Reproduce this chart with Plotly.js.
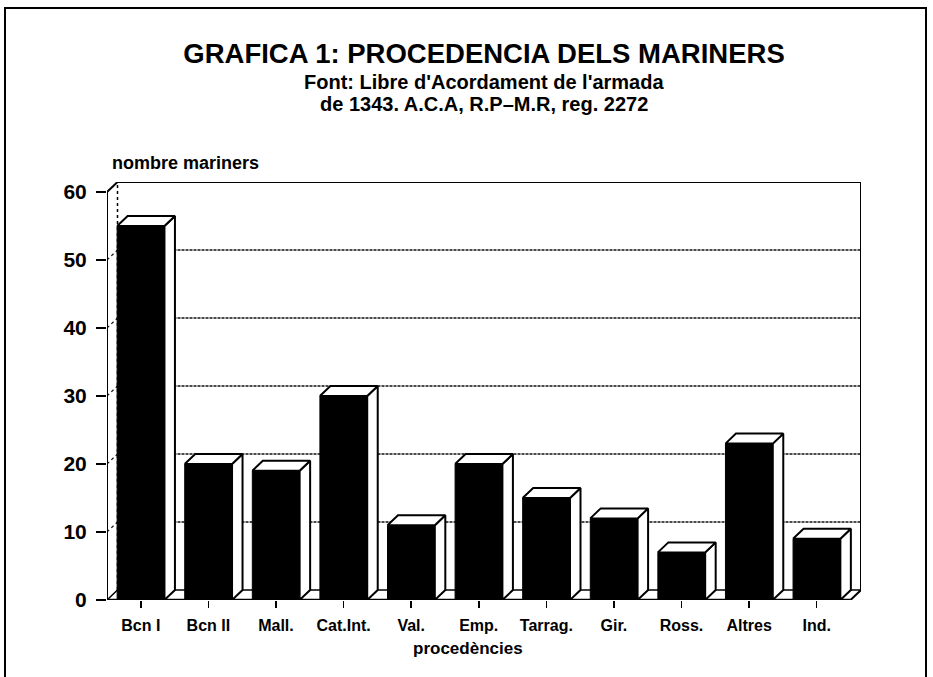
<!DOCTYPE html>
<html>
<head>
<meta charset="utf-8">
<script src="https://cdn.plot.ly/plotly-3.0.1.min.js"></script>
<style>html,body{margin:0;padding:0;background:#fff;}#chart{width:933px;height:677px;}</style>
</head>
<body>
<div id="chart"></div>
<script>
// ---- data ----
const categories = ['Bcn I','Bcn II','Mall.','Cat.Int.','Val.','Emp.','Tarrag.','Gir.','Ross.','Altres','Ind.'];
const sailors = [55, 20, 19, 30, 11, 20, 15, 12, 7, 23, 9];
const yTickValues = [0, 10, 20, 30, 40, 50, 60];
const gridValues = [10, 20, 30, 40, 50];
const titleText = 'GRAFICA 1: PROCEDENCIA DELS MARINERS';
const subtitleLines = ["Font: Libre d'Acordament de l'armada", 'de 1343. A.C.A, R.P\u2013M.R, reg. 2272'];
const yTitle = 'nombre mariners';
const xTitle = 'procedències';

// ---- layout geometry (styling) ----
const FIG_W = 933, FIG_H = 677;
const L = 107, T = 182, W = 754, H = 418;
const pxPerX = 67.6, pxPerY = 6.8;
const depthPx = {x: 10.5, y: 10};
const dxU = depthPx.x / pxPerX, dyU = depthPx.y / pxPerY;
const n = categories.length;
const xMin = -0.5, xFront = n - 0.5;
const yMax = 60;
const barW = 0.7;
const xs = categories.map((_, i) => i);
const paperX = px => (px - L) / W;
const paperY = py => (T + H - py) / H;

const FONT = 'Liberation Sans, Arial, sans-serif';

// ---- faces of the 3D bars ----
const sideX = [], sideY = [], topX = [], topY = [];
xs.forEach((x, i) => {
  const v = sailors[i];
  const r = x + barW / 2, l = x - barW / 2;
  sideX.push(r, r + dxU, r + dxU, r, r, null);
  sideY.push(0, dyU, v + dyU, v, 0, null);
  topX.push(l, r, r + dxU, l + dxU, l, null);
  topY.push(v, v, v + dyU, v + dyU, v, null);
});

const traces = [
  {type: 'bar', x: xs, y: sailors, width: barW, marker: {color: '#000', line: {color: '#000', width: 1}}, hoverinfo: 'x+y', showlegend: false},
  {type: 'scatter', mode: 'lines', x: sideX, y: sideY, fill: 'toself', fillcolor: '#fff', line: {color: '#000', width: 2}, hoverinfo: 'skip', showlegend: false},
  {type: 'scatter', mode: 'lines', x: topX, y: topY, fill: 'toself', fillcolor: '#fff', line: {color: '#000', width: 2}, hoverinfo: 'skip', showlegend: false}
];

// ---- walls, floor and grid ----
const shapes = [];
const ln = (x0, y0, x1, y1, w, dash, color) => shapes.push({type: 'line', xref: 'x', yref: 'y', x0, y0, x1, y1, layer: 'below', line: {color: color || '#000', width: w, dash: dash || 'solid'}});
gridValues.forEach(g => {
  ln(xMin + dxU, g + dyU, xFront + dxU, g + dyU, 1.3, '3px,1px', '#111');
  ln(xMin, g, xMin + dxU, g + dyU, 1.2, 'dot', '#111');
});
ln(xMin, 0, xMin, yMax, 2);                         // front-left edge
ln(xMin, yMax, xMin + dxU, yMax + dyU, 2);          // top-left diagonal
ln(xMin + dxU, yMax + dyU, xFront + dxU, yMax + dyU, 2); // back top
ln(xFront + dxU, yMax + dyU, xFront + dxU, dyU, 2); // back right
ln(xMin + dxU, dyU, xMin + dxU, yMax + dyU, 1.5, 'dot'); // back-left edge
ln(xMin + dxU, dyU, xFront + dxU, dyU, 1.5);        // floor back
ln(xMin, 0, xMin + dxU, dyU, 1.5);                  // floor left
ln(xFront, 0, xFront + dxU, dyU, 2);                // floor right
ln(xMin, 0, xFront, 0, 2.5);                        // floor front (x axis)
// outer frame
shapes.push({type: 'rect', xref: 'paper', yref: 'paper', x0: paperX(5), x1: paperX(926), y0: paperY(682), y1: paperY(8), line: {color: '#000', width: 2}, fillcolor: 'rgba(0,0,0,0)'});

const centerX = paperX(484);
const annotations = [
  {text: subtitleLines[0], xref: 'paper', yref: 'paper', x: centerX, y: paperY(82), xanchor: 'center', yanchor: 'middle', showarrow: false, font: {family: FONT, size: 20, weight: 'bold', color: '#000'}},
  {text: subtitleLines[1], xref: 'paper', yref: 'paper', x: centerX, y: paperY(104), xanchor: 'center', yanchor: 'middle', showarrow: false, font: {family: FONT, size: 20, weight: 'bold', color: '#000'}},
  {text: yTitle, xref: 'paper', yref: 'paper', x: paperX(110), y: paperY(163), xanchor: 'left', yanchor: 'middle', showarrow: false, font: {family: FONT, size: 18, weight: 'bold', color: '#000'}},
  {text: xTitle, xref: 'paper', yref: 'paper', x: paperX(468), y: paperY(648), xanchor: 'center', yanchor: 'middle', showarrow: false, font: {family: FONT, size: 17, weight: 'bold', color: '#000'}}
];

const layout = {
  width: FIG_W, height: FIG_H,
  margin: {l: L, t: T, r: FIG_W - L - W, b: FIG_H - T - H, pad: 0},
  paper_bgcolor: '#fff', plot_bgcolor: '#fff',
  font: {family: FONT, color: '#000', weight: 'bold'},
  title: {text: titleText, x: 484 / FIG_W, xanchor: 'center', y: 1 - 53 / FIG_H, yanchor: 'middle', yref: 'container', font: {family: FONT, size: 27.5, weight: 'bold', color: '#000'}},
  xaxis: {range: [xMin, xFront + dxU], tickmode: 'array', tickvals: xs, ticktext: categories, ticks: 'outside', ticklen: 7, tickwidth: 1.5, tickcolor: '#000', showline: false, showgrid: false, zeroline: false, ticklabelstandoff: 4, tickfont: {family: FONT, size: 16, weight: 'bold', color: '#000'}, fixedrange: true},
  yaxis: {range: [0, yMax + dyU], tickmode: 'array', tickvals: yTickValues, ticks: 'outside', ticklen: 10, tickwidth: 2, tickcolor: '#000', showline: false, showgrid: false, zeroline: false, ticklabelstandoff: 5, tickfont: {family: FONT, size: 21, weight: 'bold', color: '#000'}, fixedrange: true},
  shapes, annotations,
  bargap: 0.3, showlegend: false
};

Plotly.newPlot('chart', traces, layout, {displayModeBar: false, staticPlot: true});
</script>
</body>
</html>
